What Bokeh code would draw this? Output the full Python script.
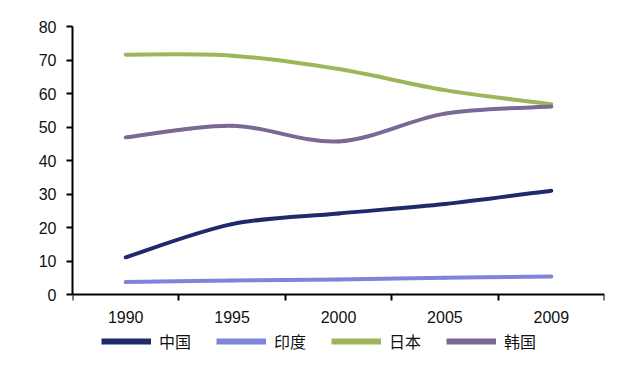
from bokeh.plotting import figure
from bokeh.models import FixedTicker, Legend, LegendItem, Range1d
from bokeh.embed import file_html
from bokeh.resources import INLINE

years = ["1990", "1995", "2000", "2005", "2009"]
china = [11.1, 21.0, 24.2, 27.0, 31.0]
india = [3.7, 4.2, 4.5, 5.0, 5.4]
japan = [71.6, 71.3, 67.3, 61.0, 56.8]
korea = [46.9, 50.4, 45.7, 54.0, 56.1]
series_names = ["中国", "印度", "日本", "韩国"]
colors = ["#1F2A6B", "#7F83D9", "#9DB65C", "#7A6896"]
y_ticks = [0, 10, 20, 30, 40, 50, 60, 70, 80]

xs = [i + 0.5 for i in range(len(years))]
TICK_FONT = "Liberation Sans"

# y range extended below 0 to leave room for the legend inside the frame
p = figure(width=640, height=371, output_backend="svg", toolbar_location=None,
           x_range=Range1d(0, len(years)), y_range=Range1d(-20, 80),
           min_border_left=72, min_border_top=26, min_border_right=36,
           min_border_bottom=10)
p.outline_line_color = None
p.grid.grid_line_color = None
p.background_fill_color = "white"
p.border_fill_color = "white"


def catmull_bezier(x, y):
    n = len(x)
    x0, y0, x1, y1, cx0, cy0, cx1, cy1 = [], [], [], [], [], [], [], []
    for i in range(n - 1):
        im1 = max(i - 1, 0)
        ip2 = min(i + 2, n - 1)
        x0.append(x[i]); y0.append(y[i])
        x1.append(x[i + 1]); y1.append(y[i + 1])
        cx0.append(x[i] + (x[i + 1] - x[im1]) / 6)
        cy0.append(y[i] + (y[i + 1] - y[im1]) / 6)
        cx1.append(x[i + 1] - (x[ip2] - x[i]) / 6)
        cy1.append(y[i + 1] - (y[ip2] - y[i]) / 6)
    return dict(x0=x0, y0=y0, x1=x1, y1=y1, cx0=cx0, cy0=cy0, cx1=cx1, cy1=cy1)


items = []
for name, vals, col in zip(series_names, [china, india, japan, korea], colors):
    p.bezier(source=catmull_bezier(xs, vals), x0="x0", y0="y0", x1="x1", y1="y1",
             cx0="cx0", cy0="cy0", cx1="cx1", cy1="cy1",
             line_color=col, line_width=4, line_cap="round")
    # single-point line: draws nothing in the plot, only provides the legend swatch
    r = p.line(x=[xs[0]], y=[vals[0]], line_color=col, line_width=6)
    items.append(LegendItem(label=name, renderers=[r]))

xa = p.xaxis[0]
xa.fixed_location = 0
xa.ticker = FixedTicker(ticks=xs, minor_ticks=list(range(len(years) + 1)))
xa.major_label_overrides = {x: y for x, y in zip(xs, years)}
xa.major_tick_out = 0
xa.major_tick_in = 0
xa.minor_tick_out = 6
xa.minor_tick_in = 0
xa.minor_tick_line_color = "black"
xa.minor_tick_line_width = 2
xa.axis_line_color = "black"
xa.axis_line_width = 2
xa.major_label_text_font = TICK_FONT
xa.major_label_text_font_size = "16px"
xa.major_label_text_color = "#111111"
xa.major_label_standoff = 10

ya = p.yaxis[0]
ya.bounds = (0, 80)
ya.ticker = FixedTicker(ticks=y_ticks)
ya.minor_tick_line_color = None
ya.major_tick_out = 6
ya.major_tick_in = 0
ya.major_tick_line_width = 2
ya.major_tick_line_color = "black"
ya.axis_line_color = "black"
ya.axis_line_width = 2
ya.major_label_text_font = TICK_FONT
ya.major_label_text_font_size = "16px"
ya.major_label_text_color = "#111111"
ya.major_label_standoff = 10

legend = Legend(items=items, orientation="horizontal", location=(29, 8),
                glyph_width=50, glyph_height=20, label_standoff=8, spacing=25,
                label_text_font="Noto Sans CJK SC", label_text_font_size="16px",
                label_text_color="#111111", border_line_color=None,
                background_fill_alpha=0, padding=0, margin=0)
p.add_layout(legend)

open("out.html", "w").write(file_html(p, INLINE))
